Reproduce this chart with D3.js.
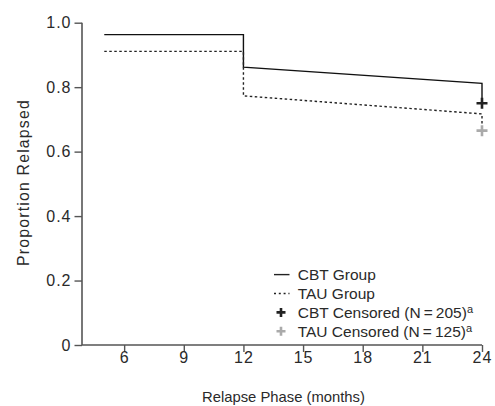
<!DOCTYPE html>
<html>
<head>
<meta charset="utf-8">
<script src="https://cdn.jsdelivr.net/npm/d3@7"></script>
<style>
  body { margin: 0; background: #fff; }
  svg { font-family: "Liberation Sans", Arial, sans-serif; }
</style>
</head>
<body>
<div id="chart"></div>
<script>
// step curves (month, proportion)
const cbtMonths = [5, 12, 12, 24, 24]
const cbtValues = [0.963, 0.963, 0.862, 0.812, 0.75]
const tauMonths = [5, 12, 12, 24, 24]
const tauValues = [0.911, 0.911, 0.773, 0.717, 0.665]
const censoredMonths = [24, 24]
const censoredValues = [0.75, 0.665]
const censoredLabels = ["CBT", "TAU"]
const xTicks = [6, 9, 12, 15, 18, 21, 24]
const yTicks = [0, 0.2, 0.4, 0.6, 0.8, 1.0]
const legendLabels = ["CBT Group", "TAU Group", "CBT Censored (N\u2009=\u2009205)", "TAU Censored (N\u2009=\u2009125)"]

const W = 495, H = 406
const margin = {top: 22.7, right: 13, bottom: 61, left: 82}
const AXIS = "#555"
const crossColors = ["#222", "#aaa"]

const svg = d3.select("#chart").append("svg")
    .attr("width", W)
    .attr("height", H)

const x = d3.scaleLinear().domain([3.88, 24]).range([margin.left, W - margin.right])
const y = d3.scaleLinear().domain([0, 1]).range([H - margin.bottom, margin.top])

// axes
const yAxis = svg.append("g")
    .attr("transform", `translate(${margin.left},0)`)
    .call(d3.axisLeft(y).tickValues(yTicks).tickSize(7.5).tickPadding(3)
        .tickFormat(d => d === 0 ? "0" : d3.format(".1f")(d)))
const xAxis = svg.append("g")
    .attr("transform", `translate(0,${H - margin.bottom})`)
    .call(d3.axisBottom(x).tickValues(xTicks).tickSize(7).tickPadding(0))

yAxis.select(".domain").attr("d", `M0,${y(1)}V${y(0)}`)
xAxis.select(".domain").attr("d", `M${margin.left},0H${x(24)}`)
svg.selectAll(".domain").attr("stroke", AXIS).attr("stroke-width", 1.6)
svg.selectAll(".tick line").attr("stroke", AXIS).attr("stroke-width", 1.4)
svg.selectAll(".tick text").attr("fill", "#2a2a2a")
    .style("font-size", "16px")
    .style("letter-spacing", "1px")
    .style("font-family", "Liberation Sans, Arial, sans-serif")

// axis titles
svg.append("text")
    .attr("transform", `translate(29,182.5) rotate(-90)`)
    .attr("text-anchor", "middle")
    .attr("fill", "#2a2a2a")
    .style("font-size", "15.8px")
    .style("letter-spacing", "1.2px")
    .text("Proportion Relapsed")
svg.append("text")
    .attr("x", 283.5)
    .attr("y", 401.5)
    .attr("text-anchor", "middle")
    .attr("fill", "#2a2a2a")
    .style("font-size", "14.8px")
    .text("Relapse Phase (months)")

// curves
const line = d3.line().x(d => x(d[0])).y(d => y(d[1]))
svg.append("path")
    .datum(d3.zip(cbtMonths, cbtValues))
    .attr("d", line)
    .attr("fill", "none")
    .attr("stroke", "#111")
    .attr("stroke-width", 1.4)
svg.append("path")
    .datum(d3.zip(tauMonths, tauValues))
    .attr("d", line)
    .attr("fill", "none")
    .attr("stroke", "#222")
    .attr("stroke-width", 1.4)
    .attr("stroke-dasharray", "2.5,2.5")

// censored markers
function drawPlus(sel, color, r) {
    sel.attr("d", `M${-r},0H${r}M0,${-r}V${r}`)
        .attr("stroke", color)
        .attr("stroke-width", 2.6)
        .attr("fill", "none")
}
svg.selectAll(".cens")
    .data(censoredLabels)
    .join("path")
    .attr("class", "cens")
    .attr("transform", (d, i) => `translate(${x(censoredMonths[i])},${y(censoredValues[i])})`)
    .each(function(d, i) {
        drawPlus(d3.select(this), crossColors[i], 5.5)
    })

// legend
const lg = svg.append("g").attr("transform", "translate(274,274.6)")
const rowH = 18.9
legendLabels.forEach((label, i) => {
    const row = lg.append("g").attr("transform", `translate(0,${i * rowH})`)
    if (i < 2) {
        row.append("line")
            .attr("x1", 0).attr("x2", 15.5).attr("y1", 0).attr("y2", 0)
            .attr("stroke", "#222")
            .attr("stroke-width", 1.4)
            .attr("stroke-dasharray", i === 1 ? "2,2.8" : null)
    } else {
        drawPlus(row.append("path").attr("transform", "translate(7,0)"), crossColors[i - 2], 4.5)
    }
    const t = row.append("text")
        .attr("x", 23.7)
        .attr("y", 0)
        .attr("dy", "0.35em")
        .attr("fill", "#2a2a2a")
        .style("font-size", "15.5px")
        .text(label)
    if (i >= 2) {
        t.append("tspan").attr("dy", "-0.42em").style("font-size", "11px").text("a")
    }
})
</script>
</body>
</html>
